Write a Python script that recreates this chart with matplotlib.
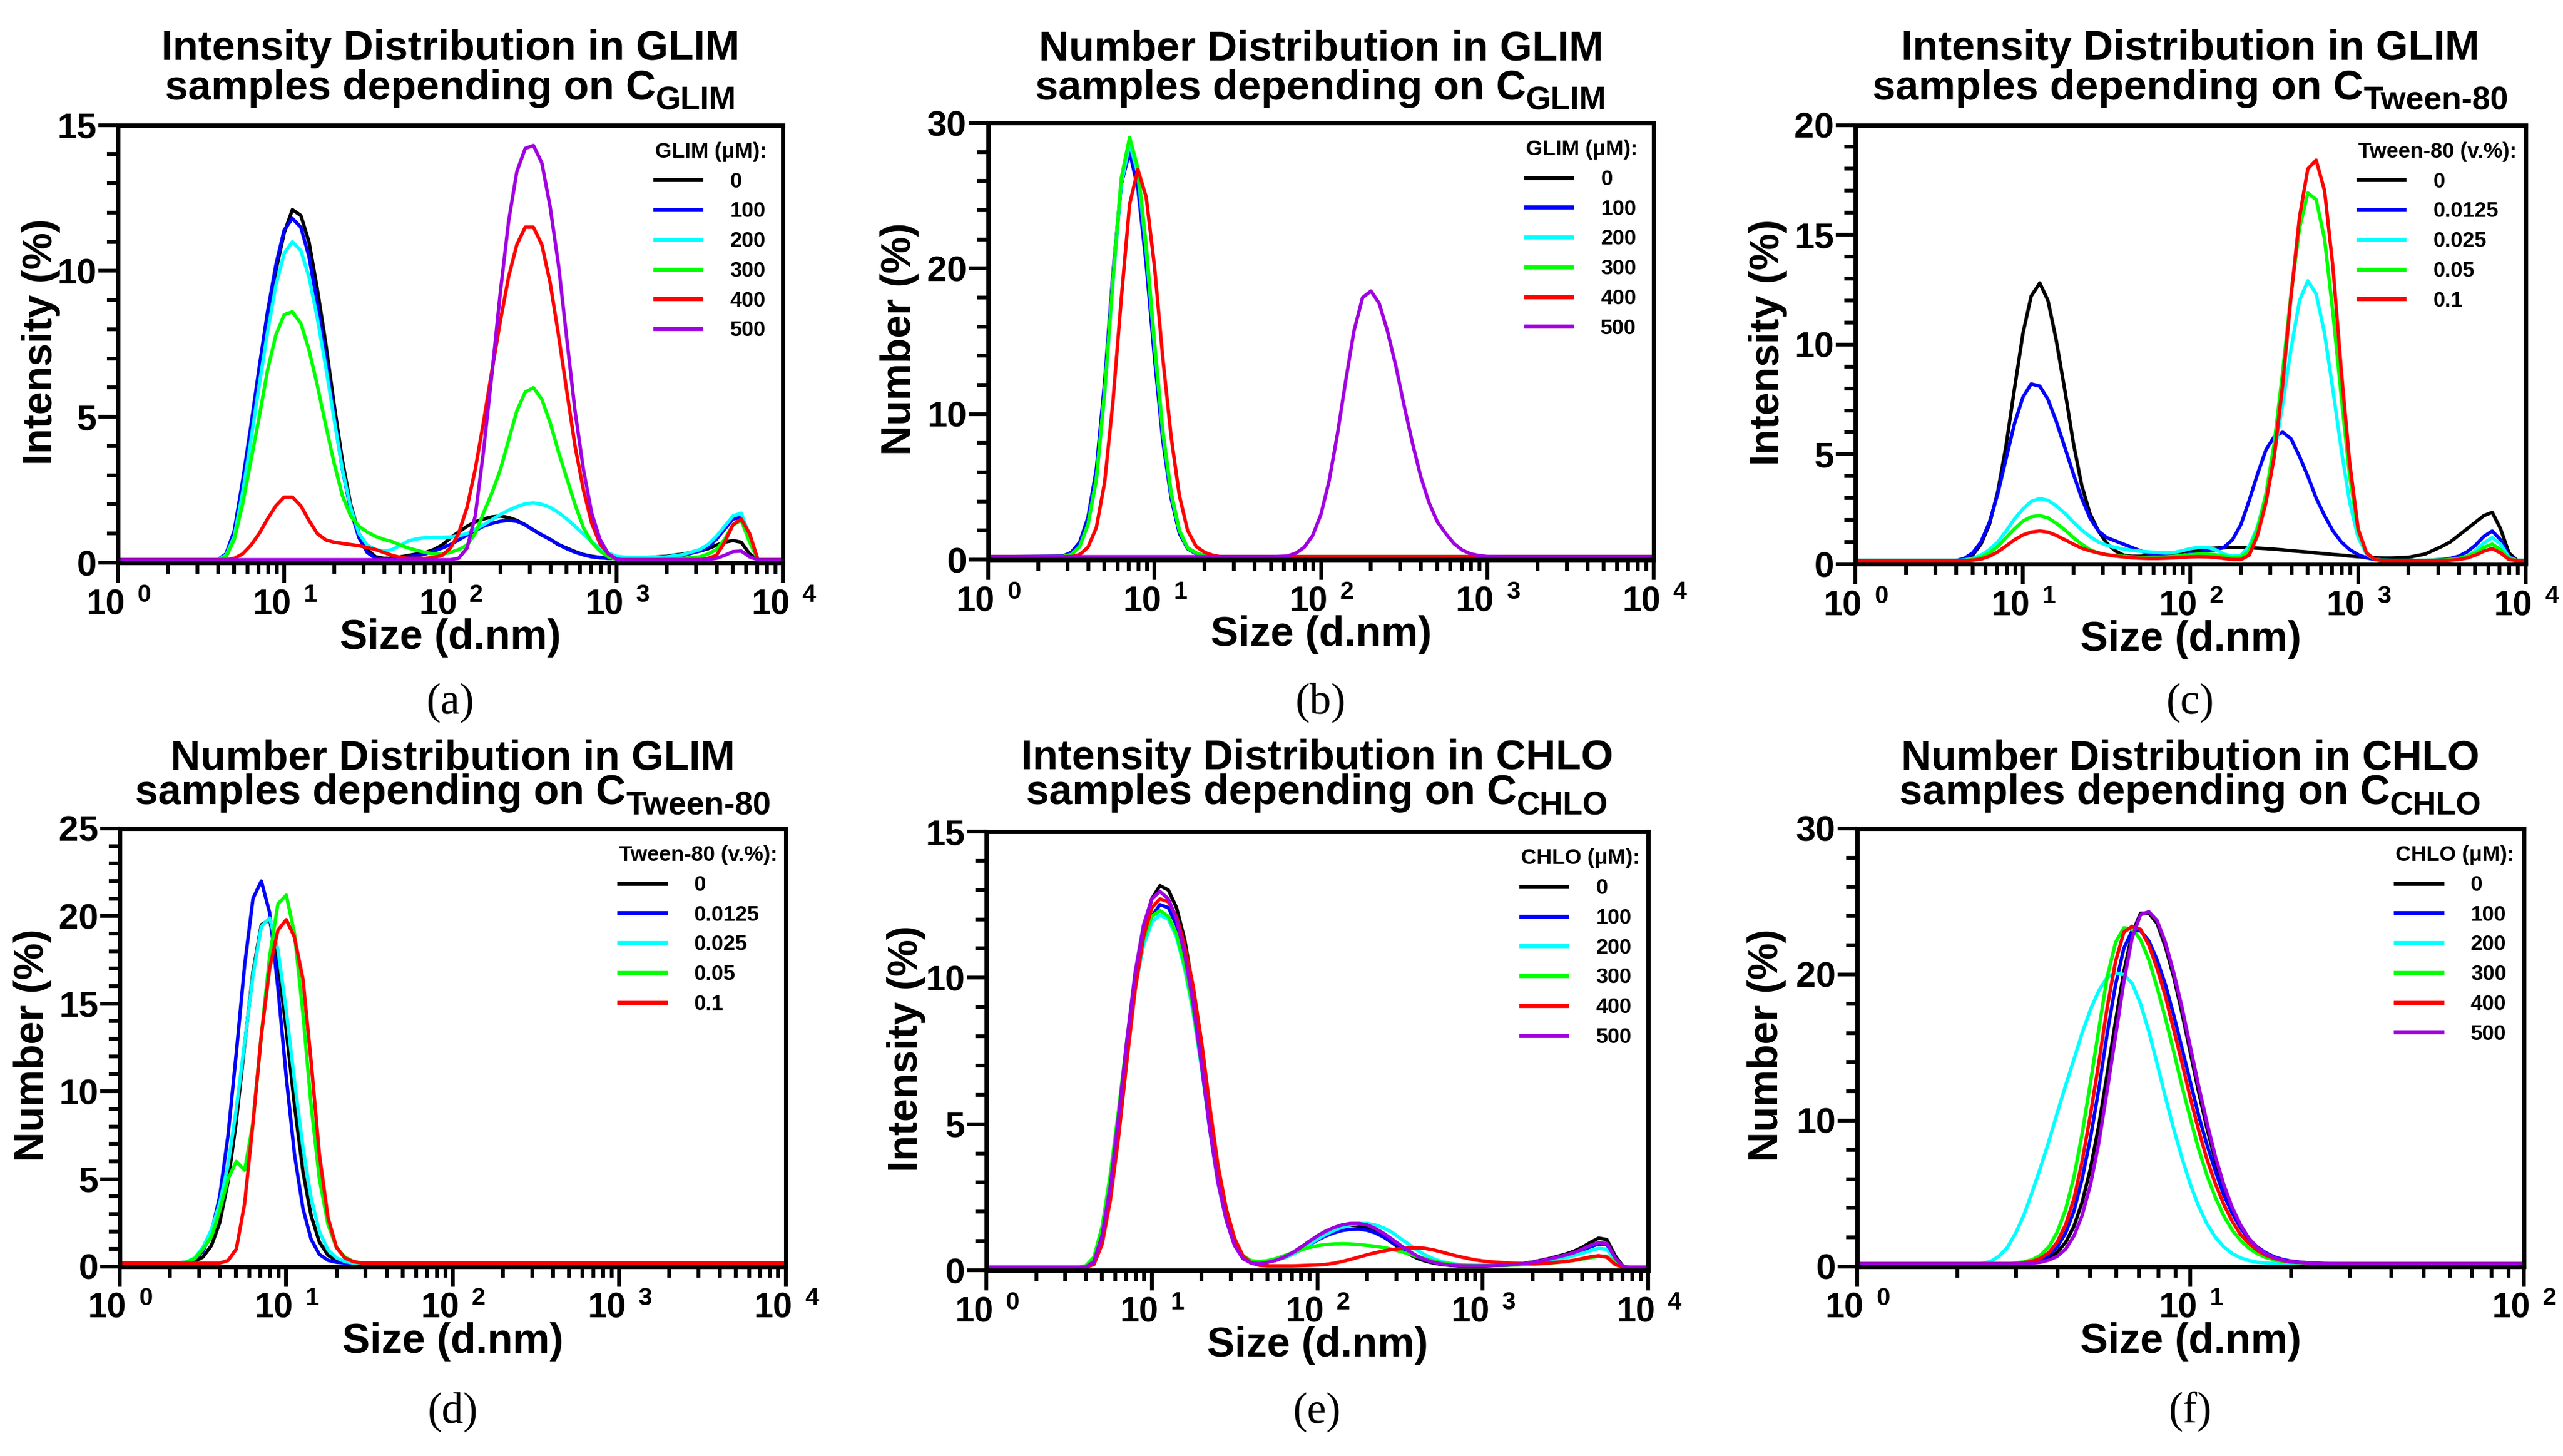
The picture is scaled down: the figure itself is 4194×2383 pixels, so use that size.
import numpy as np
import matplotlib
matplotlib.use("Agg")
import matplotlib.pyplot as plt
from matplotlib.ticker import MultipleLocator, LogLocator, NullFormatter, FixedLocator
from matplotlib.transforms import offset_copy

plt.rcParams['font.family'] = ['Liberation Sans', 'DejaVu Sans']
plt.rcParams['font.weight'] = 'bold'
plt.rcParams['axes.labelweight'] = 'bold'

# ---------------- DATA ----------------
# size grid (nm) shared by panels (a), (c), (e)
size_wide = [1, 3.55, 3.98, 4.47, 5.01, 5.62, 6.31, 7.08, 7.94, 8.91,
             10.0, 11.2, 12.6, 14.1, 15.8, 17.8, 20.0, 22.4, 25.1, 28.2,
             31.6, 35.5, 39.8, 44.7, 50.1, 56.2, 63.1, 70.8, 79.4, 89.1,
             100, 112, 126, 141, 158, 178, 200, 224, 251, 282,
             316, 355, 398, 447, 501, 562, 631, 708, 794, 891,
             1000, 1122, 1259, 1413, 1585, 1995, 2512, 3162, 3548, 3981,
             4467, 5012, 5623, 6310, 7079, 7943, 8913, 10000]

glim_labels = ['0', '100', '200', '300', '400', '500']
tween_labels = ['0', '0.0125', '0.025', '0.05', '0.1']
chlo_labels = ['0', '100', '200', '300', '400', '500']

# (a) Intensity, GLIM concentration series
int_glim_0 = [0.1, 0.1, 0.1, 0.2, 0.9, 2.4, 4.3, 6.3, 8.3, 10.0,
              11.3, 12.1, 11.9, 11.0, 9.4, 7.5, 5.4, 3.5, 2.0, 1.0,
              0.45, 0.2, 0.15, 0.15, 0.2, 0.25, 0.3, 0.35, 0.45, 0.6,
              0.85, 1.05, 1.25, 1.4, 1.5, 1.57, 1.6, 1.55, 1.45, 1.3,
              1.12, 0.95, 0.8, 0.62, 0.5, 0.38, 0.28, 0.22, 0.18, 0.15,
              0.15, 0.15, 0.15, 0.16, 0.18, 0.22, 0.3, 0.4, 0.48, 0.6,
              0.7, 0.76, 0.7, 0.3, 0.1, 0.1, 0.1, 0.1]
int_glim_100 = [0.1, 0.1, 0.1, 0.3, 1.1, 2.8, 4.7, 6.7, 8.6, 10.2,
                11.4, 11.8, 11.5, 10.5, 8.9, 7.0, 5.0, 3.2, 1.8, 0.85,
                0.35, 0.15, 0.12, 0.12, 0.15, 0.2, 0.25, 0.3, 0.4, 0.5,
                0.62, 0.78, 0.95, 1.1, 1.25, 1.35, 1.42, 1.45, 1.42, 1.3,
                1.12, 0.95, 0.8, 0.62, 0.48, 0.36, 0.27, 0.2, 0.17, 0.15,
                0.15, 0.15, 0.15, 0.16, 0.17, 0.2, 0.25, 0.4, 0.55, 0.8,
                1.15, 1.5, 1.55, 0.8, 0.1, 0.1, 0.1, 0.1]
int_glim_200 = [0.1, 0.1, 0.1, 0.25, 0.9, 2.4, 4.2, 6.1, 7.9, 9.5,
                10.6, 11.0, 10.7, 9.8, 8.4, 6.7, 4.9, 3.2, 1.9, 1.0,
                0.6, 0.45, 0.4, 0.45, 0.6, 0.75, 0.82, 0.86, 0.87, 0.87,
                0.88, 0.92, 1.0, 1.15, 1.3, 1.48, 1.65, 1.8, 1.92, 2.02,
                2.05, 2.0, 1.9, 1.72, 1.5, 1.25, 0.98, 0.72, 0.5, 0.33,
                0.22, 0.19, 0.18, 0.18, 0.18, 0.2, 0.28, 0.45, 0.62, 0.9,
                1.25, 1.6, 1.7, 0.9, 0.1, 0.1, 0.1, 0.1]
int_glim_300 = [0.1, 0.1, 0.1, 0.2, 0.8, 2.0, 3.5, 5.0, 6.6, 7.8,
                8.5, 8.6, 8.2, 7.3, 6.1, 4.7, 3.4, 2.3, 1.6, 1.25,
                1.05, 0.9, 0.8, 0.72, 0.6, 0.5, 0.42, 0.35, 0.3, 0.3,
                0.35, 0.45, 0.6, 1.0, 1.7, 2.4, 3.2, 4.2, 5.2, 5.85,
                6.0, 5.6, 4.8, 3.8, 2.9, 2.0, 1.2, 0.7, 0.4, 0.2,
                0.1, 0.1, 0.1, 0.1, 0.1, 0.12, 0.15, 0.2, 0.3, 0.45,
                0.8, 1.3, 1.45, 0.7, 0.1, 0.1, 0.1, 0.1]
int_glim_400 = [0.1, 0.1, 0.1, 0.1, 0.15, 0.3, 0.6, 1.0, 1.5, 1.95,
                2.25, 2.25, 1.95, 1.45, 1.0, 0.78, 0.7, 0.66, 0.62, 0.58,
                0.52, 0.45, 0.35, 0.25, 0.18, 0.15, 0.15, 0.15, 0.18, 0.25,
                0.5, 1.0, 1.9, 3.2, 4.8, 6.6, 8.3, 9.8, 10.9, 11.5,
                11.5, 10.9, 9.6, 7.8, 5.9, 4.0, 2.5, 1.35, 0.65, 0.3,
                0.12, 0.1, 0.1, 0.1, 0.1, 0.1, 0.1, 0.1, 0.15, 0.25,
                0.7, 1.3, 1.5, 1.0, 0.1, 0.1, 0.1, 0.1]
int_glim_500 = [0.1, 0.1, 0.1, 0.1, 0.1, 0.1, 0.1, 0.1, 0.1, 0.1,
                0.1, 0.1, 0.1, 0.1, 0.1, 0.1, 0.1, 0.1, 0.1, 0.1,
                0.1, 0.1, 0.1, 0.1, 0.1, 0.1, 0.1, 0.1, 0.1, 0.1,
                0.1, 0.15, 0.5, 1.6, 3.8, 6.5, 9.3, 11.7, 13.4, 14.2,
                14.3, 13.7, 12.2, 10.2, 7.7, 5.2, 3.2, 1.7, 0.8, 0.3,
                0.12, 0.1, 0.1, 0.1, 0.1, 0.1, 0.1, 0.1, 0.1, 0.15,
                0.25, 0.38, 0.4, 0.2, 0.1, 0.1, 0.1, 0.1]

# (b) Number, GLIM concentration series
size_b = [1, 2.82, 3.16, 3.55, 3.98, 4.47, 5.01, 5.62, 6.31, 7.08,
          7.94, 8.91, 10.0, 11.2, 12.6, 14.1, 15.8, 17.8, 20.0, 22.4,
          25.1, 31.6, 39.8, 50.1, 63.1, 70.8, 79.4, 89.1, 100, 112,
          126, 141, 158, 178, 200, 224, 251, 282, 316, 355,
          398, 447, 501, 562, 631, 708, 794, 891, 1000, 1259,
          3162, 10000]
num_glim_0 = [0.2, 0.22, 0.4, 1.0, 2.6, 5.8, 11.8, 19.3, 25.8, 28.3,
              26.0, 20.9, 14.4, 8.6, 4.4, 1.9, 0.8, 0.45, 0.25, 0.2,
              0.2] + [0.2] * 31
num_glim_100 = [0.2, 0.25, 0.5, 1.2, 2.9, 6.2, 12.2, 19.6, 25.8, 28.0,
                25.5, 20.3, 13.8, 8.2, 4.2, 1.8, 0.75, 0.4, 0.25, 0.2,
                0.2] + [0.2] * 31
num_glim_200 = [0.2, 0.22, 0.35, 0.9, 2.4, 5.5, 11.4, 19.0, 25.8, 28.6,
                26.5, 21.3, 14.7, 8.8, 4.5, 2.0, 0.8, 0.45, 0.25, 0.2,
                0.2] + [0.2] * 31
num_glim_300 = [0.2, 0.22, 0.35, 0.9, 2.4, 5.5, 11.5, 19.2, 26.2, 29.0,
                26.9, 21.6, 14.9, 8.9, 4.6, 2.0, 0.8, 0.45, 0.25, 0.2,
                0.2] + [0.2] * 31
num_glim_400 = [0.2, 0.2, 0.2, 0.35, 0.85, 2.2, 5.3, 10.8, 17.9, 24.4,
                26.8, 24.9, 20.1, 13.9, 8.4, 4.4, 2.0, 0.9, 0.5, 0.3,
                0.2] + [0.2] * 31
num_glim_500 = [0.2] * 21 + [0.2, 0.2, 0.2, 0.25, 0.45, 0.85, 1.65, 3.1, 5.4, 8.7,
                             12.3, 15.7, 18.0, 18.45, 17.6, 15.7, 13.3, 10.6, 8.0, 5.7,
                             3.9, 2.6, 1.8, 1.1, 0.65, 0.4, 0.28, 0.22, 0.2, 0.2,
                             0.2]

# (c) Intensity, Tween-80 series
int_tw_0 = [0.15, 0.15, 0.15, 0.2, 0.4, 0.9, 1.8, 3.3, 5.4, 8.0,
            10.5, 12.2, 12.8, 12.0, 10.2, 7.9, 5.5, 3.6, 2.3, 1.5,
            0.95, 0.6, 0.4, 0.35, 0.35, 0.38, 0.4, 0.45, 0.5, 0.55,
            0.6, 0.65, 0.7, 0.72, 0.74, 0.75, 0.75, 0.74, 0.72, 0.7,
            0.67, 0.64, 0.6, 0.57, 0.54, 0.5, 0.47, 0.43, 0.4, 0.36,
            0.33, 0.3, 0.28, 0.27, 0.27, 0.3, 0.45, 0.8, 1.0, 1.3,
            1.6, 1.9, 2.2, 2.35, 1.6, 0.5, 0.15, 0.15]
int_tw_0125 = [0.15, 0.15, 0.15, 0.25, 0.5, 1.0, 1.9, 3.2, 4.8, 6.4,
               7.6, 8.2, 8.1, 7.5, 6.5, 5.3, 4.1, 3.0, 2.1, 1.5,
               1.2, 1.05, 0.9, 0.75, 0.6, 0.48, 0.4, 0.35, 0.35, 0.38,
               0.45, 0.52, 0.6, 0.65, 0.75, 1.1, 1.8, 2.9, 4.1, 5.2,
               5.8, 6.0, 5.7, 4.9, 4.0, 3.0, 2.2, 1.5, 1.0, 0.65,
               0.42, 0.28, 0.2, 0.17, 0.15, 0.15, 0.15, 0.2, 0.25, 0.35,
               0.55, 0.85, 1.25, 1.5, 1.1, 0.35, 0.15, 0.15]
int_tw_025 = [0.15, 0.15, 0.15, 0.18, 0.25, 0.4, 0.65, 1.0, 1.5, 2.05,
              2.5, 2.85, 2.98, 2.9, 2.65, 2.3, 1.9, 1.55, 1.25, 1.0,
              0.85, 0.75, 0.68, 0.62, 0.58, 0.55, 0.52, 0.5, 0.52, 0.6,
              0.7, 0.75, 0.75, 0.65, 0.45, 0.35, 0.4, 0.8, 1.7, 3.1,
              5.0, 7.3, 9.8, 12.0, 12.9, 12.3, 10.5, 7.9, 5.2, 2.8,
              1.2, 0.45, 0.2, 0.17, 0.15, 0.15, 0.15, 0.15, 0.18, 0.22,
              0.35, 0.6, 0.95, 1.2, 0.9, 0.3, 0.15, 0.15]
int_tw_05 = [0.15, 0.15, 0.15, 0.15, 0.2, 0.3, 0.5, 0.8, 1.2, 1.6,
             1.95, 2.15, 2.2, 2.1, 1.85, 1.55, 1.2, 0.9, 0.65, 0.5,
             0.42, 0.38, 0.35, 0.32, 0.3, 0.3, 0.3, 0.32, 0.35, 0.38,
             0.42, 0.45, 0.45, 0.42, 0.35, 0.3, 0.3, 0.6, 1.6, 3.2,
             5.5, 8.8, 12.3, 15.3, 16.9, 16.6, 14.8, 11.4, 7.6, 4.0,
             1.5, 0.5, 0.2, 0.15, 0.15, 0.15, 0.15, 0.18, 0.2, 0.25,
             0.35, 0.5, 0.75, 0.9, 0.65, 0.25, 0.15, 0.15]
int_tw_1 = [0.15, 0.15, 0.15, 0.15, 0.17, 0.22, 0.35, 0.55, 0.82, 1.1,
            1.32, 1.45, 1.5, 1.45, 1.3, 1.1, 0.9, 0.72, 0.6, 0.5,
            0.42, 0.36, 0.32, 0.28, 0.26, 0.25, 0.25, 0.26, 0.28, 0.3,
            0.32, 0.33, 0.32, 0.3, 0.25, 0.2, 0.2, 0.4, 1.3, 2.8,
            4.9, 8.2, 12.2, 15.8, 18.0, 18.4, 17.0, 13.5, 8.8, 4.6,
            1.6, 0.5, 0.2, 0.15, 0.15, 0.15, 0.15, 0.15, 0.17, 0.2,
            0.27, 0.4, 0.58, 0.7, 0.5, 0.2, 0.15, 0.15]

# (d) Number, Tween-80 series
size_d = [1, 2.24, 2.51, 2.82, 3.16, 3.55, 3.98, 4.47, 5.01, 5.62,
          6.31, 7.08, 7.94, 8.91, 10.0, 11.2, 12.6, 14.1, 15.8, 17.8,
          20.0, 22.4, 25.1, 28.2, 39.8, 100, 1000, 10000]
num_tw_0 = [0.2, 0.2, 0.22, 0.3, 0.55, 1.2, 2.5, 4.85, 8.3, 12.7,
            16.8, 19.5, 19.8, 17.5, 13.5, 9.2, 5.4, 2.9, 1.4, 0.65,
            0.35, 0.25, 0.2, 0.2, 0.2, 0.2, 0.2, 0.2]
num_tw_0125 = [0.2, 0.2, 0.27, 0.43, 0.88, 1.95, 4.0, 7.5, 12.2, 17.2,
               21.0, 22.0, 20.2, 15.9, 10.8, 6.4, 3.3, 1.56, 0.7, 0.36,
               0.25, 0.2, 0.2, 0.2, 0.2, 0.2, 0.2, 0.2]
num_tw_025 = [0.2, 0.2, 0.25, 0.5, 1.1, 2.1, 3.6, 5.8, 9.0, 12.8,
              16.6, 19.4, 19.9, 18.1, 14.6, 10.6, 6.8, 3.9, 2.0, 0.95,
              0.5, 0.3, 0.2, 0.2, 0.2, 0.2, 0.2, 0.2]
num_tw_05 = [0.2, 0.2, 0.25, 0.45, 1.0, 1.7, 3.2, 5.0, 6.0, 5.5,
             8.2, 13.2, 17.7, 20.7, 21.2, 19.0, 14.4, 9.2, 5.0, 2.4,
             1.1, 0.55, 0.3, 0.2, 0.2, 0.2, 0.2, 0.2]
num_tw_1 = [0.2, 0.2, 0.2, 0.2, 0.2, 0.2, 0.2, 0.35, 1.0, 3.6,
            8.2, 13.2, 17.0, 19.2, 19.8, 18.8, 16.4, 11.7, 6.4, 2.8,
            1.1, 0.5, 0.3, 0.2, 0.2, 0.2, 0.2, 0.2]

# (e) Intensity, CHLO concentration series
int_chlo_0 = [0.1, 0.1, 0.1, 0.3, 1.2, 2.8, 5.1, 7.7, 10.0, 11.7,
              12.7, 13.15, 13.0, 12.4, 11.3, 9.6, 7.5, 5.1, 3.2, 1.9,
              1.0, 0.45, 0.28, 0.25, 0.28, 0.35, 0.45, 0.6, 0.78, 0.98,
              1.17, 1.33, 1.45, 1.52, 1.54, 1.52, 1.45, 1.32, 1.15, 0.95,
              0.75, 0.57, 0.42, 0.32, 0.25, 0.2, 0.17, 0.15, 0.15, 0.15,
              0.15, 0.16, 0.17, 0.18, 0.2, 0.28, 0.4, 0.55, 0.65, 0.78,
              0.95, 1.1, 1.05, 0.5, 0.12, 0.1, 0.1, 0.1]
int_chlo_100 = [0.1, 0.1, 0.1, 0.3, 1.2, 2.8, 5.0, 7.5, 9.7, 11.2,
                12.1, 12.5, 12.4, 11.8, 10.7, 9.1, 7.1, 4.9, 3.1, 1.8,
                0.95, 0.45, 0.3, 0.28, 0.3, 0.35, 0.43, 0.55, 0.7, 0.87,
                1.03, 1.17, 1.28, 1.36, 1.4, 1.41, 1.37, 1.28, 1.14, 0.97,
                0.8, 0.63, 0.48, 0.36, 0.28, 0.22, 0.18, 0.16, 0.15, 0.15,
                0.15, 0.16, 0.17, 0.18, 0.2, 0.27, 0.37, 0.5, 0.58, 0.68,
                0.8, 0.9, 0.88, 0.42, 0.12, 0.1, 0.1, 0.1]
int_chlo_200 = [0.1, 0.1, 0.12, 0.4, 1.4, 3.1, 5.3, 7.7, 9.7, 11.1,
                11.9, 12.15, 12.0, 11.4, 10.3, 8.8, 6.9, 4.8, 3.0, 1.75,
                0.9, 0.45, 0.3, 0.27, 0.3, 0.35, 0.43, 0.55, 0.7, 0.88,
                1.06, 1.22, 1.36, 1.47, 1.55, 1.6, 1.6, 1.55, 1.45, 1.3,
                1.1, 0.9, 0.7, 0.53, 0.4, 0.3, 0.24, 0.2, 0.18, 0.17,
                0.17, 0.17, 0.18, 0.19, 0.2, 0.25, 0.33, 0.43, 0.5, 0.58,
                0.67, 0.75, 0.72, 0.35, 0.12, 0.1, 0.1, 0.1]
int_chlo_300 = [0.1, 0.1, 0.15, 0.45, 1.5, 3.3, 5.5, 7.9, 9.9, 11.3,
                12.1, 12.3, 12.1, 11.5, 10.4, 8.9, 7.0, 4.9, 3.1, 1.8,
                0.95, 0.5, 0.33, 0.3, 0.33, 0.4, 0.5, 0.6, 0.7, 0.78,
                0.84, 0.88, 0.9, 0.91, 0.9, 0.88, 0.85, 0.82, 0.78, 0.72,
                0.65, 0.57, 0.48, 0.4, 0.32, 0.26, 0.22, 0.19, 0.17, 0.16,
                0.16, 0.16, 0.17, 0.17, 0.18, 0.2, 0.24, 0.3, 0.34, 0.38,
                0.43, 0.48, 0.48, 0.25, 0.1, 0.1, 0.1, 0.1]
int_chlo_400 = [0.1, 0.1, 0.1, 0.2, 0.9, 2.4, 4.6, 7.2, 9.6, 11.4,
                12.4, 12.7, 12.6, 12.1, 11.1, 9.7, 7.8, 5.6, 3.6, 2.1,
                1.1, 0.5, 0.25, 0.17, 0.15, 0.15, 0.15, 0.15, 0.16, 0.17,
                0.18, 0.2, 0.24, 0.3, 0.37, 0.45, 0.53, 0.6, 0.66, 0.71,
                0.74, 0.76, 0.77, 0.75, 0.7, 0.63, 0.55, 0.48, 0.42, 0.36,
                0.32, 0.29, 0.27, 0.25, 0.24, 0.23, 0.25, 0.3, 0.34, 0.4,
                0.46, 0.5, 0.45, 0.2, 0.1, 0.1, 0.1, 0.1]
int_chlo_500 = [0.1, 0.1, 0.1, 0.3, 1.2, 2.9, 5.3, 7.9, 10.2, 11.8,
                12.7, 12.95, 12.7, 12.0, 10.8, 9.1, 7.0, 4.8, 3.0, 1.7,
                0.85, 0.4, 0.25, 0.23, 0.27, 0.34, 0.45, 0.6, 0.78, 0.98,
                1.17, 1.33, 1.46, 1.55, 1.6, 1.6, 1.55, 1.43, 1.27, 1.07,
                0.87, 0.67, 0.5, 0.37, 0.28, 0.22, 0.18, 0.16, 0.15, 0.15,
                0.15, 0.16, 0.17, 0.18, 0.2, 0.27, 0.38, 0.52, 0.6, 0.72,
                0.85, 0.95, 0.92, 0.42, 0.12, 0.1, 0.1, 0.1]

# (f) Number, CHLO concentration series
size_f = [1, 2.00, 2.24, 2.37, 2.51, 2.66, 2.82, 2.99, 3.16, 3.35,
          3.55, 3.76, 3.98, 4.22, 4.47, 4.73, 5.01, 5.31, 5.62, 5.96,
          6.31, 6.68, 7.08, 7.50, 7.94, 8.41, 8.91, 9.44, 10.0, 10.59,
          11.22, 11.89, 12.59, 13.34, 14.13, 14.96, 15.85, 16.79, 17.78, 18.84,
          19.95, 22.4, 25.1, 31.6, 50.1, 100]
num_chlo_0 = [0.2, 0.2, 0.2, 0.2, 0.2, 0.2, 0.2, 0.2, 0.23, 0.28,
              0.39, 0.59, 0.98, 1.66, 2.76, 4.4, 6.7, 9.7, 13.15, 16.8,
              20.2, 22.8, 24.2, 24.2, 23.5, 21.9, 19.8, 17.3, 14.6, 11.9,
              9.4, 7.2, 5.3, 3.8, 2.7, 1.85, 1.26, 0.85, 0.59, 0.43,
              0.33, 0.25, 0.22, 0.2, 0.2, 0.2]
num_chlo_100 = [0.2, 0.2, 0.2, 0.2, 0.2, 0.2, 0.2, 0.2, 0.25, 0.32,
                0.47, 0.77, 1.34, 2.3, 3.8, 6.0, 8.8, 12.2, 15.9, 19.3,
                21.8, 23.0, 23.0, 22.3, 21.0, 19.3, 17.2, 14.9, 12.6, 10.3,
                8.3, 6.5, 4.9, 3.65, 2.65, 1.9, 1.35, 0.96, 0.68, 0.5,
                0.38, 0.26, 0.22, 0.2, 0.2, 0.2]
num_chlo_200 = [0.2, 0.2, 0.2, 0.23, 0.35, 0.7, 1.3, 2.3, 3.5, 5.1,
                6.8, 8.6, 10.5, 12.4, 14.2, 16.0, 17.6, 18.9, 19.8, 20.1,
                20.0, 19.4, 18.0, 16.1, 13.9, 11.6, 9.4, 7.4, 5.6, 4.1,
                2.9, 2.0, 1.35, 0.9, 0.6, 0.42, 0.3, 0.25, 0.22, 0.2,
                0.2, 0.2, 0.2, 0.2, 0.2, 0.2]
num_chlo_300 = [0.2, 0.2, 0.2, 0.2, 0.2, 0.2, 0.2, 0.25, 0.32, 0.47,
                0.79, 1.36, 2.35, 3.9, 6.15, 9.1, 12.6, 16.3, 19.8, 22.2,
                23.2, 23.1, 22.4, 21.0, 19.1, 17.0, 14.7, 12.3, 10.1, 8.0,
                6.2, 4.7, 3.47, 2.5, 1.8, 1.26, 0.89, 0.63, 0.47, 0.36,
                0.3, 0.23, 0.2, 0.2, 0.2, 0.2]
num_chlo_400 = [0.2, 0.2, 0.2, 0.2, 0.2, 0.2, 0.2, 0.2, 0.27, 0.36,
                0.57, 0.96, 1.67, 2.86, 4.65, 7.2, 10.4, 14.0, 17.7, 20.9,
                22.9, 23.3, 23.1, 22.0, 20.4, 18.5, 16.2, 13.9, 11.5, 9.3,
                7.3, 5.65, 4.25, 3.1, 2.2, 1.59, 1.12, 0.79, 0.57, 0.42,
                0.33, 0.25, 0.22, 0.2, 0.2, 0.2]
num_chlo_500 = [0.2, 0.2, 0.2, 0.2, 0.2, 0.2, 0.2, 0.2, 0.2, 0.22,
                0.3, 0.45, 0.7, 1.2, 2.1, 3.5, 5.6, 8.5, 12.0, 15.8,
                19.5, 22.5, 24.1, 24.3, 23.7, 22.2, 20.1, 17.7, 15.0, 12.3,
                9.8, 7.5, 5.6, 4.05, 2.85, 1.95, 1.3, 0.9, 0.62, 0.45,
                0.34, 0.25, 0.22, 0.2, 0.2, 0.2]

# ---------------- STYLE / LAYOUT ----------------
colors6 = ['#000000', '#0000FF', '#00FFFF', '#00FF00', '#FF0000', '#A000E0']
W, H, DPI = 4194, 2383, 300
TITLE_FS = 16.3
SUB_FS = 12.7
LABEL_FS = 16.3
XTICK_FS = 13.6
XSUP_FS = 9.7
YTICK_FS = 14.0
LEG_FS = 8.4
LW = 1.35

fig = plt.figure(figsize=(W / DPI, H / DPI), dpi=DPI)

panels = [
    dict(rect=[0.04602, 0.61351, 0.25942, 0.30059], x=size_wide,
         ys=[int_glim_0, int_glim_100, int_glim_200, int_glim_300, int_glim_400, int_glim_500],
         labels=glim_labels, legtitle='GLIM (\u03bcM):', legx=0.808,
         t1='Intensity Distribution in GLIM', sub='GLIM', ylabel='Intensity (%)',
         ymax=15, ymaj=5, ymin=1, xexp=4, ylx=-0.116, tag='(a)', row=0),
    dict(rect=[0.38555, 0.61561, 0.25966, 0.30004], x=size_b,
         ys=[num_glim_0, num_glim_100, num_glim_200, num_glim_300, num_glim_400, num_glim_500],
         labels=glim_labels, legtitle='GLIM (\u03bcM):', legx=0.808,
         t1='Number Distribution in GLIM', sub='GLIM', ylabel='Number (%)',
         ymax=30, ymaj=10, ymin=2, xexp=4, ylx=-0.133, tag='(b)', row=0),
    dict(rect=[0.72389, 0.61267, 0.26156, 0.30151], x=size_wide,
         ys=[int_tw_0, int_tw_0125, int_tw_025, int_tw_05, int_tw_1],
         labels=tween_labels, legtitle='Tween-80 (v.%):', legx=0.75,
         t1='Intensity Distribution in GLIM', sub='Tween-80', ylabel='Intensity (%)',
         ymax=20, ymaj=5, ymin=1, xexp=4, ylx=-0.130, tag='(c)', row=0),
    dict(rect=[0.04673, 0.13009, 0.25989, 0.30088], x=size_d,
         ys=[num_tw_0, num_tw_0125, num_tw_025, num_tw_05, num_tw_1],
         labels=tween_labels, legtitle='Tween-80 (v.%):', legx=0.75,
         t1='Number Distribution in GLIM', sub='Tween-80', ylabel='Number (%)',
         ymax=25, ymaj=5, ymin=1, xexp=4, ylx=-0.131, tag='(d)', row=1),
    dict(rect=[0.38484, 0.12757, 0.25823, 0.30130], x=size_wide,
         ys=[int_chlo_0, int_chlo_100, int_chlo_200, int_chlo_300, int_chlo_400, int_chlo_500],
         labels=chlo_labels, legtitle='CHLO (\u03bcM):', legx=0.808,
         t1='Intensity Distribution in CHLO', sub='CHLO', ylabel='Intensity (%)',
         ymax=15, ymaj=5, ymin=1, xexp=4, ylx=-0.121, tag='(e)', row=1),
    dict(rect=[0.72460, 0.13009, 0.26013, 0.30088], x=size_f,
         ys=[num_chlo_0, num_chlo_100, num_chlo_200, num_chlo_300, num_chlo_400, num_chlo_500],
         labels=chlo_labels, legtitle='CHLO (\u03bcM):', legx=0.808,
         t1='Number Distribution in CHLO', sub='CHLO', ylabel='Number (%)',
         ymax=30, ymaj=10, ymin=2, xexp=2, ylx=-0.136, tag='(f)', row=1),
]

row_title_y = {0: (1 - 98.5 / H, 1 - 163.0 / H), 1: (1 - 1259.0 / H, 1 - 1316.0 / H)}
row_tag_y = {0: 1 - 1150.0 / H, 1: 1 - 2311.0 / H}
SUB_DROP = 17.0 / H
PX = 72.0 / DPI  # points per pixel

renderer = fig.canvas.get_renderer()

for p in panels:
    ax = fig.add_axes(p['rect'])
    for y, lab, col in zip(p['ys'], p['labels'], colors6):
        ax.plot(p['x'], y, color=col, lw=LW, label=lab, solid_joinstyle='round')
    ax.set_xscale('log')
    ax.set_xlim(1, 10 ** p['xexp'])
    ax.set_ylim(0, p['ymax'])
    exps = list(range(p['xexp'] + 1))
    ax.xaxis.set_major_locator(FixedLocator([10.0 ** k for k in exps]))
    ax.xaxis.set_major_formatter(NullFormatter())
    ax.xaxis.set_minor_locator(LogLocator(base=10, subs=np.arange(2, 10), numticks=50))
    ax.xaxis.set_minor_formatter(NullFormatter())
    yt = list(range(0, p['ymax'] + 1, p['ymaj']))
    ax.yaxis.set_major_locator(FixedLocator(yt))
    ax.set_yticklabels([str(v) for v in yt], fontsize=YTICK_FS, fontweight='bold')
    ax.yaxis.set_minor_locator(MultipleLocator(p['ymin']))
    ax.tick_params(which='major', direction='out', length=7.8, width=1.5)
    ax.tick_params(which='minor', direction='out', length=4.4, width=1.5)
    ax.tick_params(axis='y', which='major', pad=0.6)
    for s in ax.spines.values():
        s.set_linewidth(1.7)

    # decade tick labels "10" with a raised exponent, as in the reference
    xtr = ax.get_xaxis_transform()
    tr_base = offset_copy(xtr, fig=fig, x=11 * PX, y=-84 * PX, units='points')
    tr_sup = offset_copy(xtr, fig=fig, x=31 * PX, y=-63.5 * PX, units='points')
    for k in exps:
        ax.text(10.0 ** k, 0, '10', transform=tr_base, ha='right', va='baseline',
                fontsize=XTICK_FS, fontweight='bold', clip_on=False)
        ax.text(10.0 ** k, 0, str(k), transform=tr_sup, ha='left', va='baseline',
                fontsize=XSUP_FS, fontweight='bold', clip_on=False)

    ax.set_xlabel('Size (d.nm)', fontsize=LABEL_FS, fontweight='bold', va='baseline')
    ax.xaxis.set_label_coords(0.5, -0.197)
    ax.set_ylabel(p['ylabel'], fontsize=LABEL_FS, fontweight='bold', va='center', ha='center',
                  rotation=90, rotation_mode='default')
    ax.yaxis.set_label_coords(p['ylx'], 0.505)

    leg = ax.legend(title=p['legtitle'], loc='upper left', bbox_to_anchor=(p['legx'], 0.962),
                    frameon=False, prop={'size': LEG_FS, 'weight': 'bold'},
                    title_fontproperties={'size': LEG_FS, 'weight': 'bold'},
                    handlelength=2.15, handletextpad=1.35, labelspacing=0.45,
                    borderpad=0, borderaxespad=0, alignment='left')
    for ln in leg.get_lines():
        ln.set_linewidth(1.6)

    # titles
    pos = ax.get_position()
    xc = 0.5 * (pos.x0 + pos.x1)
    y1, y2 = row_title_y[p['row']]
    fig.text(xc, y1, p['t1'], ha='center', va='baseline', fontsize=TITLE_FS, fontweight='bold')
    tm = fig.text(0, y2, 'samples depending on C', ha='left', va='baseline',
                  fontsize=TITLE_FS, fontweight='bold')
    ts = fig.text(0, y2 - SUB_DROP, p['sub'], ha='left', va='baseline',
                  fontsize=SUB_FS, fontweight='bold')
    wm = tm.get_window_extent(renderer).width / W
    ws = ts.get_window_extent(renderer).width / W
    x0 = xc - 0.5 * (wm + ws)
    tm.set_x(x0)
    ts.set_x(x0 + wm)

    fig.text(xc, row_tag_y[p['row']], p['tag'], ha='center', va='center',
             fontsize=17, family='Liberation Serif', fontweight='normal')

fig.savefig('out.png', dpi=DPI)
